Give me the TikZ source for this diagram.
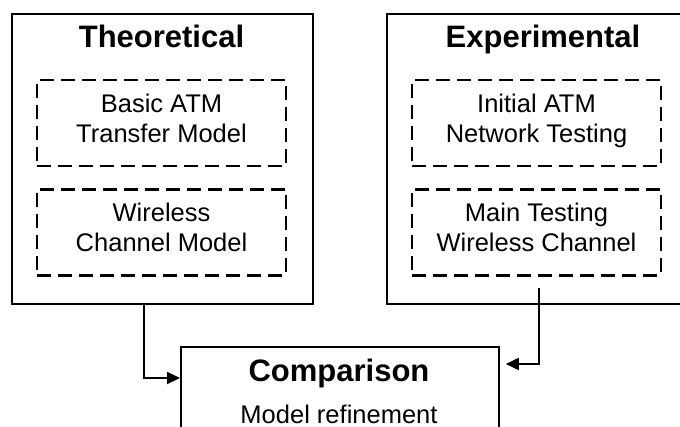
\documentclass[tikz,border=0pt]{standalone}
\usepackage{fontspec}
\setmainfont{Liberation Sans}
\usetikzlibrary{arrows.meta}
\begin{document}
\begin{tikzpicture}[x=1pt,y=-1pt,
  frame/.style={draw, line width=1.8pt, inner sep=0pt, anchor=north west},
  subbox/.style={draw, line width=2.4pt, dash pattern=on 14pt off 7pt, inner sep=0pt,
    minimum width=249pt, minimum height=86pt},
  lbl/.style={font=\fontsize{25.5}{30}\selectfont, anchor=base, inner sep=0pt},
  head/.style={font=\fontsize{31}{36}\selectfont\bfseries, anchor=base, inner sep=0pt},
  link/.style={line width=1.8pt, -{Triangle[length=13pt,width=12pt]}}]
\useasboundingbox (0,0) rectangle (680,427);
\clip (0,0) rectangle (680,427);

% outer frames
\node[frame, minimum width=301pt, minimum height=290pt] (theo) at (11,13) {};
\node[frame, minimum width=320pt, minimum height=290pt] (expe) at (386,13) {};
\node[frame, minimum width=318pt, minimum height=120pt] (comp) at (180,346) {};

% headings
\node[head] (theoT) at (161.5,48) {Theoretical};
\node[head] (expeT) at (543,48) {Experimental};
\node[head] (compT) at (339,382) {Comparison};
\node[lbl] (compS) at (339,423) {Model refinement};

% dashed sub-boxes
\node[subbox] (basic) at (161.5,123) {};
\node[subbox] (wchan) at (161.5,232.5) {};
\node[subbox] (init) at (536.5,123) {};
\node[subbox] (mtest) at (536.5,232.5) {};

\node[lbl] (basic1) at (161.5,113) {Basic ATM};
\node[lbl] (basic2) at (161.5,143) {Transfer Model};
\node[lbl] (wchan1) at (161.5,222) {Wireless};
\node[lbl] (wchan2) at (161.5,252) {Channel Model};
\node[lbl] (init1) at (536.5,113) {Initial ATM};
\node[lbl] (init2) at (536.5,143) {Network Testing};
\node[lbl] (mtest1) at (536.5,222) {Main Testing};
\node[lbl] (mtest2) at (536.5,252) {Wireless Channel};

% connectors
\coordinate (theoOut) at ([xshift=133pt]theo.south west);
\coordinate (expeOut) at (539,288);
\draw[link] (theoOut) |- ([yshift=-32pt]comp.north west);
\draw[link] (expeOut) |- ([xshift=6pt,yshift=-18pt]comp.north east);
\end{tikzpicture}
\end{document}
